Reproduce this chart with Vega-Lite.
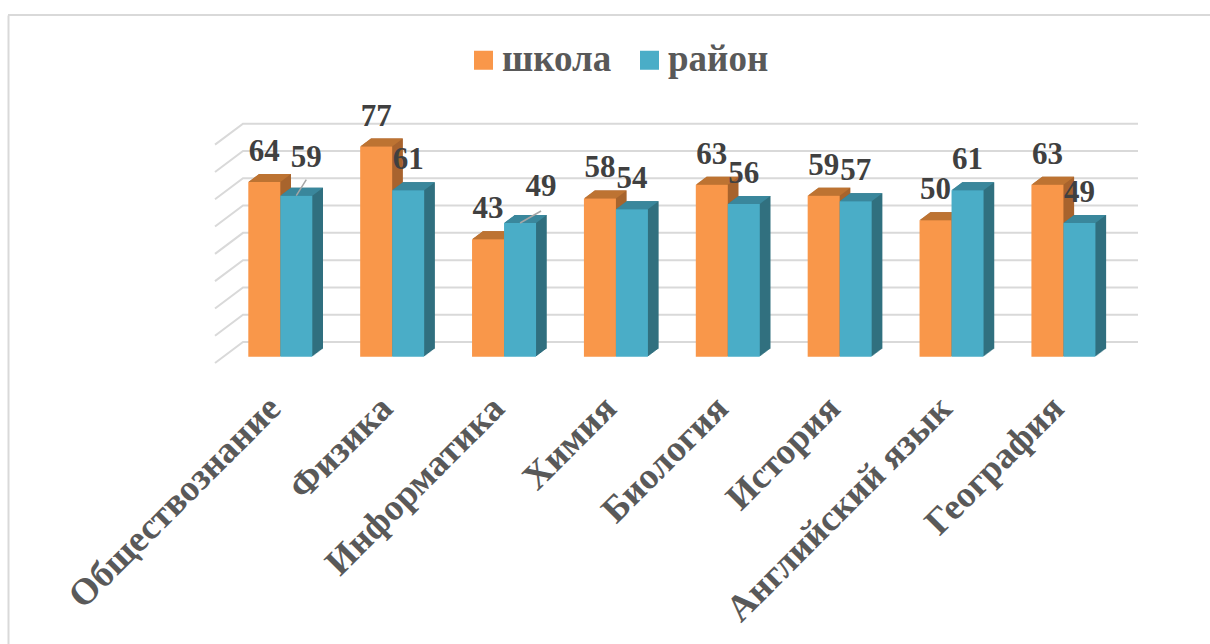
{"$schema":"https://vega.github.io/schema/vega-lite/v6.json","width":1202,"height":629,"autosize":"none","padding":{"left":8,"top":15,"right":0,"bottom":0},"background":"white","config":{"view":{"stroke":null}},
"layer":[
{"data":{"values":[{"top":119.8}]},"mark":{"type":"rule","stroke":"#d9d9d9","strokeWidth":2},"encoding":{"y":{"field":"top","type":"quantitative"}}},
{"data":{"values":[{"tick":0},{"tick":10},{"tick":20},{"tick":30},{"tick":40},{"tick":50},{"tick":60},{"tick":70},{"tick":80}]},
"mark":{"type":"point","shape":"M-28,21L0,0H895","size":4,"filled":false,"stroke":"#d9d9d9","strokeWidth":2,"opacity":1},
"encoding":{"x":{"datum":"Обществознание","type":"nominal","bandPosition":0,"sort":null,"scale":{"domain":["Обществознание","Физика","Информатика","Химия","Биология","История","Английский язык","География"],"paddingInner":0,"paddingOuter":0,"range":[235,1130]},"axis":null},
"y":{"field":"tick","type":"quantitative","scale":{"domain":[-110.6,119.8],"nice":false,"zero":false},"axis":{"labels":false,"ticks":false,"title":null,"domainColor":"#d9d9d9","domainWidth":2,"grid":false}}}},
{"data":{"name":"scores","values":[
{"subject":"Обществознание","series":"школа","value":64},{"subject":"Обществознание","series":"район","value":59},
{"subject":"Физика","series":"школа","value":77},{"subject":"Физика","series":"район","value":61},
{"subject":"Информатика","series":"школа","value":43},{"subject":"Информатика","series":"район","value":49},
{"subject":"Химия","series":"школа","value":58},{"subject":"Химия","series":"район","value":54},
{"subject":"Биология","series":"школа","value":63},{"subject":"Биология","series":"район","value":56},
{"subject":"История","series":"школа","value":59},{"subject":"История","series":"район","value":57},
{"subject":"Английский язык","series":"школа","value":50},{"subject":"Английский язык","series":"район","value":61},
{"subject":"География","series":"школа","value":63},{"subject":"География","series":"район","value":49}]},
"encoding":{"x":{"field":"subject","type":"nominal","sort":null,"axis":null,"scale":{"domain":["Обществознание","Физика","Информатика","Химия","Биология","История","Английский язык","География"],"paddingInner":0,"paddingOuter":0,"range":[235,1130]}},
"xOffset":{"field":"series","type":"nominal","sort":null,"scale":{"domain":["школа","район"],"paddingInner":0,"paddingOuter":0,"range":[21.3,53.3]}},
"y":{"field":"value","type":"quantitative","stack":null}},
"resolve":{"scale":{"fill":"independent","xOffset":"independent"}},
"layer":[
{"mark":{"type":"bar","yOffset":6.7},"encoding":{"y2":{"datum":-2.454},"xOffset":{"field":"series","type":"nominal","sort":null,"scale":{"domain":["школа","район"],"paddingInner":0,"paddingOuter":0,"range":[16,80]}},"fill":{"field":"series","type":"nominal","sort":null,"legend":null,"scale":{"domain":["школа","район"],"range":["#A8642E","#31707F"]}}}},
{"mark":{"type":"bar","yOffset":7.2},"encoding":{"y2":{"datum":-2.637},"xOffset":{"field":"series","type":"nominal","sort":null,"scale":{"domain":["школа","район"],"paddingInner":0,"paddingOuter":0,"range":[15.3,79.3]}},"fill":{"field":"series","type":"nominal","sort":null,"legend":null,"scale":{"domain":["школа","район"],"range":["#A8642E","#31707F"]}}}},
{"mark":{"type":"bar","yOffset":7.95},"encoding":{"y2":{"datum":-2.912},"xOffset":{"field":"series","type":"nominal","sort":null,"scale":{"domain":["школа","район"],"paddingInner":0,"paddingOuter":0,"range":[14.3,78.3]}},"fill":{"field":"series","type":"nominal","sort":null,"legend":null,"scale":{"domain":["школа","район"],"range":["#A8642E","#31707F"]}}}},
{"mark":{"type":"bar","yOffset":8.7},"encoding":{"y2":{"datum":-3.187},"xOffset":{"field":"series","type":"nominal","sort":null,"scale":{"domain":["школа","район"],"paddingInner":0,"paddingOuter":0,"range":[13.3,77.3]}},"fill":{"field":"series","type":"nominal","sort":null,"legend":null,"scale":{"domain":["школа","район"],"range":["#A8642E","#31707F"]}}}},
{"mark":{"type":"bar","yOffset":9.45},"encoding":{"y2":{"datum":-3.462},"xOffset":{"field":"series","type":"nominal","sort":null,"scale":{"domain":["школа","район"],"paddingInner":0,"paddingOuter":0,"range":[12.3,76.3]}},"fill":{"field":"series","type":"nominal","sort":null,"legend":null,"scale":{"domain":["школа","район"],"range":["#A8642E","#31707F"]}}}},
{"mark":{"type":"bar","yOffset":10.2},"encoding":{"y2":{"datum":-3.736},"xOffset":{"field":"series","type":"nominal","sort":null,"scale":{"domain":["школа","район"],"paddingInner":0,"paddingOuter":0,"range":[11.3,75.3]}},"fill":{"field":"series","type":"nominal","sort":null,"legend":null,"scale":{"domain":["школа","район"],"range":["#A8642E","#31707F"]}}}},
{"mark":{"type":"bar","yOffset":10.95},"encoding":{"y2":{"datum":-4.011},"xOffset":{"field":"series","type":"nominal","sort":null,"scale":{"domain":["школа","район"],"paddingInner":0,"paddingOuter":0,"range":[10.3,74.3]}},"fill":{"field":"series","type":"nominal","sort":null,"legend":null,"scale":{"domain":["школа","район"],"range":["#A8642E","#31707F"]}}}},
{"mark":{"type":"bar","yOffset":11.7},"encoding":{"y2":{"datum":-4.286},"xOffset":{"field":"series","type":"nominal","sort":null,"scale":{"domain":["школа","район"],"paddingInner":0,"paddingOuter":0,"range":[9.3,73.3]}},"fill":{"field":"series","type":"nominal","sort":null,"legend":null,"scale":{"domain":["школа","район"],"range":["#A8642E","#31707F"]}}}},
{"mark":{"type":"bar","yOffset":12.45},"encoding":{"y2":{"datum":-4.56},"xOffset":{"field":"series","type":"nominal","sort":null,"scale":{"domain":["школа","район"],"paddingInner":0,"paddingOuter":0,"range":[8.3,72.3]}},"fill":{"field":"series","type":"nominal","sort":null,"legend":null,"scale":{"domain":["школа","район"],"range":["#A8642E","#31707F"]}}}},
{"mark":{"type":"bar","yOffset":13.2},"encoding":{"y2":{"datum":-4.835},"xOffset":{"field":"series","type":"nominal","sort":null,"scale":{"domain":["школа","район"],"paddingInner":0,"paddingOuter":0,"range":[7.3,71.3]}},"fill":{"field":"series","type":"nominal","sort":null,"legend":null,"scale":{"domain":["школа","район"],"range":["#A8642E","#31707F"]}}}},
{"mark":{"type":"bar","yOffset":13.95},"encoding":{"y2":{"datum":-5.11},"xOffset":{"field":"series","type":"nominal","sort":null,"scale":{"domain":["школа","район"],"paddingInner":0,"paddingOuter":0,"range":[6.3,70.3]}},"fill":{"field":"series","type":"nominal","sort":null,"legend":null,"scale":{"domain":["школа","район"],"range":["#A8642E","#31707F"]}}}},
{"mark":{"type":"point","shape":"M-16,0H16L26.7,-8H-5.3Z","size":4,"filled":true,"opacity":1,"yOffset":14.7},"encoding":{"fill":{"field":"series","type":"nominal","sort":null,"legend":null,"scale":{"domain":["школа","район"],"range":["#BD7332","#3A879C"]}}}},
{"mark":{"type":"bar","yOffset":14.7},"encoding":{"y2":{"datum":-5.385},"xOffset":{"field":"series","type":"nominal","sort":null,"scale":{"domain":["школа","район"],"paddingInner":0,"paddingOuter":0,"range":[5.3,69.3]}},"color":{"field":"series","type":"nominal","sort":null,"scale":{"domain":["школа","район"],"range":["#F9974A","#4AADC7"]},"legend":{"orient":"none","legendX":457,"legendY":26.5,"direction":"horizontal","title":null,"symbolType":"square","symbolSize":361,"symbolStrokeWidth":0,"labelFont":"Liberation Serif","labelFontWeight":"bold","labelFontSize":37,"labelColor":"#595959","columnPadding":19,"labelOffset":0,"symbolOpacity":1}}}},
{"transform":[{"filter":"datum.subject==='Обществознание' && datum.series==='район'"}],"mark":{"type":"point","shape":"M0,0L10,-16","size":4,"filled":false,"stroke":"#a6a6a6","strokeWidth":1.5,"opacity":1,"yOffset":14.7}},
{"transform":[{"filter":"datum.subject==='Информатика' && datum.series==='район'"}],"mark":{"type":"point","shape":"M0,0L21,-12","size":4,"filled":false,"stroke":"#a6a6a6","strokeWidth":1.5,"opacity":1,"yOffset":14.7}},
{"transform":[{"filter":"!(datum.series==='район' && (datum.subject==='Обществознание' || datum.subject==='Информатика'))"}],"mark":{"type":"text","font":"Liberation Serif","fontWeight":"bold","fontSize":31,"fill":"#404040","baseline":"middle","align":"center","yOffset":14.7,"dy":-30},"encoding":{"text":{"field":"value","type":"quantitative"}}},
{"transform":[{"filter":"datum.series==='район' && datum.subject==='Обществознание'"}],"mark":{"type":"text","font":"Liberation Serif","fontWeight":"bold","fontSize":31,"fill":"#404040","baseline":"middle","align":"center","yOffset":14.7,"dy":-38,"dx":10},"encoding":{"text":{"field":"value","type":"quantitative"}}},
{"transform":[{"filter":"datum.series==='район' && datum.subject==='Информатика'"}],"mark":{"type":"text","font":"Liberation Serif","fontWeight":"bold","fontSize":31,"fill":"#404040","baseline":"middle","align":"center","yOffset":14.7,"dy":-36,"dx":21},"encoding":{"text":{"field":"value","type":"quantitative"}}}
]},
{"data":{"name":"scores"},"transform":[{"filter":"datum.series==='школа'"}],
"mark":{"type":"text","font":"Liberation Serif","fontWeight":"bold","fontSize":37,"fill":"#595959","angle":-45,"align":"right","baseline":"middle","dx":-60,"dy":26},
"encoding":{"x":{"field":"subject","type":"nominal","sort":null,"axis":null,"scale":{"domain":["Обществознание","Физика","Информатика","Химия","Биология","История","Английский язык","География"],"paddingInner":0,"paddingOuter":0,"range":[235,1130]}},"y":{"datum":0,"type":"quantitative"},"text":{"field":"subject","type":"nominal"}}}
]}
